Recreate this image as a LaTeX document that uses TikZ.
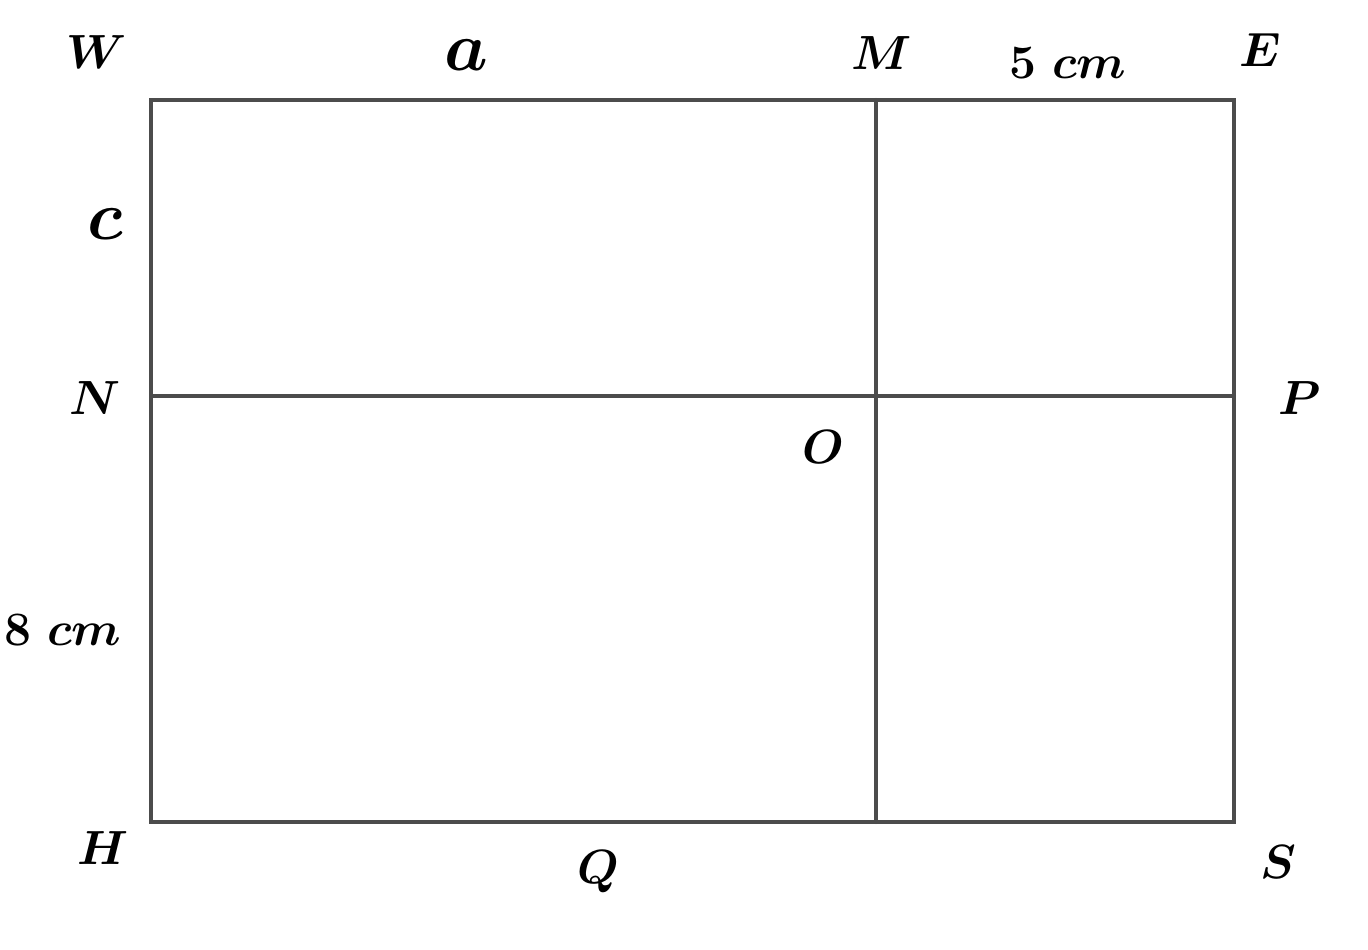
\documentclass[tikz,border=0pt]{standalone}
\usepackage{bm}
\begin{document}
\begin{tikzpicture}[x=0.25pt,y=-0.25pt,
  edge/.style={draw=black!70,line width=1pt,line cap=round},
  lbl/.style={inner sep=0pt,font=\fontsize{11.7}{14}\selectfont},
  biglbl/.style={inner sep=0pt,font=\fontsize{19}{22}\selectfont}]
\useasboundingbox (0,0) rectangle (1368,950);
\coordinate (W) at (151,100);
\coordinate (M) at (876,100);
\coordinate (E) at (1234,100);
\coordinate (N) at (151,396);
\coordinate (O) at (876,396);
\coordinate (P) at (1234,396);
\coordinate (H) at (151,822);
\coordinate (Q) at (876,822);
\coordinate (S) at (1234,822);
\draw[edge] (W) -- (E) -- (S) -- (H) -- cycle;
\draw[edge] (M) -- (Q);
\draw[edge] (N) -- (P);
\node[lbl] (tW) at (97,52) {$\bm{W}$};
\node[biglbl] (ta) at (466,55) {$\bm{a}$};
\node[lbl] (tM) at (882,53) {$\bm{M}$};
\node[lbl] (t5) at (1068,63) {$\bm{5\ cm}$};
\node[lbl] (tE) at (1260,50) {$\bm{E}$};
\node[biglbl] (tc) at (105,224) {$\bm{c}$};
\node[lbl] (tN) at (95,398) {$\bm{N}$};
\node[lbl] (tP) at (1300,398) {$\bm{P}$};
\node[lbl] (tO) at (823,447) {$\bm{O}$};
\node[lbl] (t8) at (63,630) {$\bm{8\ cm}$};
\node[lbl] (tH) at (103,848) {$\bm{H}$};
\node[lbl] (tQ) at (598,872) {$\bm{Q}$};
\node[lbl] (tS) at (1278,862) {$\bm{S}$};
\end{tikzpicture}
\end{document}
